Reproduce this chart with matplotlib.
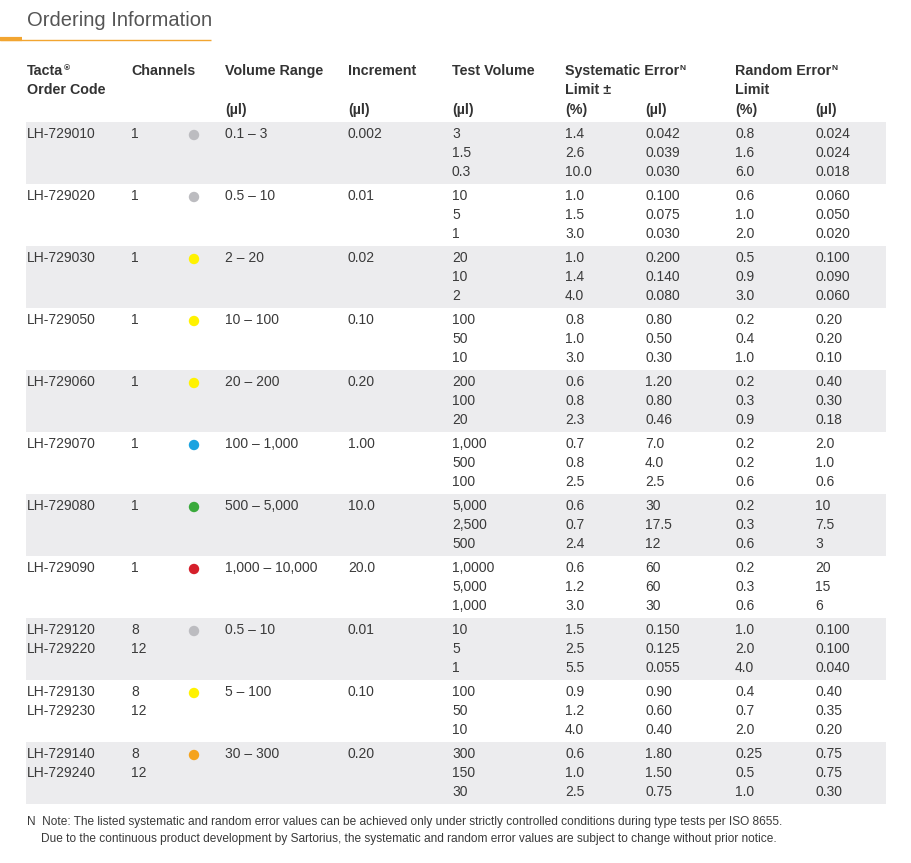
import matplotlib
matplotlib.use("Agg")
import matplotlib.pyplot as plt
from matplotlib.patches import Rectangle, Circle

# table data
codes = [["LH-729010"], ["LH-729020"], ["LH-729030"], ["LH-729050"], ["LH-729060"],
         ["LH-729070"], ["LH-729080"], ["LH-729090"], ["LH-729120", "LH-729220"],
         ["LH-729130", "LH-729230"], ["LH-729140", "LH-729240"]]
channels = [["1"], ["1"], ["1"], ["1"], ["1"], ["1"], ["1"], ["1"],
            ["8", "12"], ["8", "12"], ["8", "12"]]
dot_colors = ["#bcbcc0", "#bcbcc0", "#fff200", "#fff200", "#fff200", "#1aa3e0",
              "#3aaa3c", "#d51f2b", "#bcbcc0", "#fff200", "#f5a31c"]
vol_range = ["0.1 – 3", "0.5 – 10", "2 – 20", "10 – 100", "20 – 200", "100 – 1,000",
             "500 – 5,000", "1,000 – 10,000", "0.5 – 10", "5 – 100", "30 – 300"]
increment = ["0.002", "0.01", "0.02", "0.10", "0.20", "1.00", "10.0", "20.0",
             "0.01", "0.10", "0.20"]
test_vol = [["3", "1.5", "0.3"], ["10", "5", "1"], ["20", "10", "2"], ["100", "50", "10"],
            ["200", "100", "20"], ["1,000", "500", "100"], ["5,000", "2,500", "500"],
            ["1,0000", "5,000", "1,000"], ["10", "5", "1"], ["100", "50", "10"],
            ["300", "150", "30"]]
sys_pct = [["1.4", "2.6", "10.0"], ["1.0", "1.5", "3.0"], ["1.0", "1.4", "4.0"],
           ["0.8", "1.0", "3.0"], ["0.6", "0.8", "2.3"], ["0.7", "0.8", "2.5"],
           ["0.6", "0.7", "2.4"], ["0.6", "1.2", "3.0"], ["1.5", "2.5", "5.5"],
           ["0.9", "1.2", "4.0"], ["0.6", "1.0", "2.5"]]
sys_ul = [["0.042", "0.039", "0.030"], ["0.100", "0.075", "0.030"], ["0.200", "0.140", "0.080"],
          ["0.80", "0.50", "0.30"], ["1.20", "0.80", "0.46"], ["7.0", "4.0", "2.5"],
          ["30", "17.5", "12"], ["60", "60", "30"], ["0.150", "0.125", "0.055"],
          ["0.90", "0.60", "0.40"], ["1.80", "1.50", "0.75"]]
rand_pct = [["0.8", "1.6", "6.0"], ["0.6", "1.0", "2.0"], ["0.5", "0.9", "3.0"],
            ["0.2", "0.4", "1.0"], ["0.2", "0.3", "0.9"], ["0.2", "0.2", "0.6"],
            ["0.2", "0.3", "0.6"], ["0.2", "0.3", "0.6"], ["1.0", "2.0", "4.0"],
            ["0.4", "0.7", "2.0"], ["0.25", "0.5", "1.0"]]
rand_ul = [["0.024", "0.024", "0.018"], ["0.060", "0.050", "0.020"], ["0.100", "0.090", "0.060"],
           ["0.20", "0.20", "0.10"], ["0.40", "0.30", "0.18"], ["2.0", "1.0", "0.6"],
           ["10", "7.5", "3"], ["20", "15", "6"], ["0.100", "0.100", "0.040"],
           ["0.40", "0.35", "0.20"], ["0.75", "0.75", "0.30"]]

headers = ["Tacta\nOrder Code", "Channels", "Volume Range", "Increment", "Test Volume",
           "Systematic Error\nLimit ±", "Random Error\nLimit"]
units = ["", "", "(µl)", "(µl)", "(µl)", "(%)", "(µl)", "(%)", "(µl)"]
col_x = [27, 131, 225, 348, 452, 565, 645, 735, 815]
head_x = [27, 131, 225, 348, 452, 565, 735]

txt = "#3a3a3a"
font = ["Liberation Sans", "DejaVu Sans"]

W, H = 911, 863
fig = plt.figure(figsize=(W / 100, H / 100), dpi=100)
ax = fig.add_axes([0, 0, 1, 1])
ax.set_xlim(0, W)
ax.set_ylim(H, 0)
ax.axis("off")

# title
ax.text(27, 21, "Ordering Information", fontsize=14.5, color="#555555",
        family=font, va="center", ha="left")
ax.plot([0, 211], [40, 40], color="#f2a531", lw=1.0, solid_capstyle="butt")
ax.plot([0, 22], [39, 39], color="#f2a531", lw=3.0, solid_capstyle="butt")

# header
for i, h in enumerate(headers):
    lines = h.split("\n")
    for j, s in enumerate(lines):
        t = ax.text(head_x[i], 71 + 19 * j, s, fontsize=10.3, fontweight="bold",
                    color="#333333", family=font, va="center", ha="left")
        if j == 0 and i in (0, 5, 6):
            sup = "®" if i == 0 else "N"
            ax.annotate(sup, xy=(1, 1), xycoords=t, xytext=(0.5, -1),
                        textcoords="offset points", fontsize=6, fontweight="bold",
                        color="#333333", family=font, va="top", ha="left")
for i, u in enumerate(units):
    if u:
        ax.text(col_x[i], 110, u, fontsize=10.3, fontweight="bold", color="#333333",
                family=font, va="center", ha="left")

# body
top0, gh, lh = 122, 62, 19
for g in range(len(codes)):
    top = top0 + g * gh
    if g % 2 == 0:
        ax.add_patch(Rectangle((26, top), 860, gh, color="#ececee", lw=0, zorder=0))
    y0 = top + 12
    for k, s in enumerate(codes[g]):
        ax.text(col_x[0], y0 + k * lh, s, fontsize=10, color=txt, family=font, va="center")
    for k, s in enumerate(channels[g]):
        ax.text(col_x[1], y0 + k * lh, s, fontsize=10, color=txt, family=font, va="center")
    ax.add_patch(Circle((194, y0 + 1), 5.2, color=dot_colors[g], lw=0))
    ax.text(col_x[2], y0, vol_range[g], fontsize=10, color=txt, family=font, va="center")
    ax.text(col_x[3], y0, increment[g], fontsize=10, color=txt, family=font, va="center")
    for c, col in enumerate([test_vol, sys_pct, sys_ul, rand_pct, rand_ul]):
        for k, s in enumerate(col[g]):
            ax.text(col_x[4 + c], y0 + k * lh, s, fontsize=10, color=txt,
                    family=font, va="center")

# footnote
ax.text(27, 822, "N  Note: The listed systematic and random error values can be achieved only "
        "under strictly controlled conditions during type tests per ISO 8655.",
        fontsize=8.6, color=txt, family=font, va="center")
ax.text(41, 839, "Due to the continuous product development by Sartorius, the systematic and "
        "random error values are subject to change without prior notice.",
        fontsize=8.6, color=txt, family=font, va="center")

fig.savefig("out.png", dpi=100, facecolor="white")
